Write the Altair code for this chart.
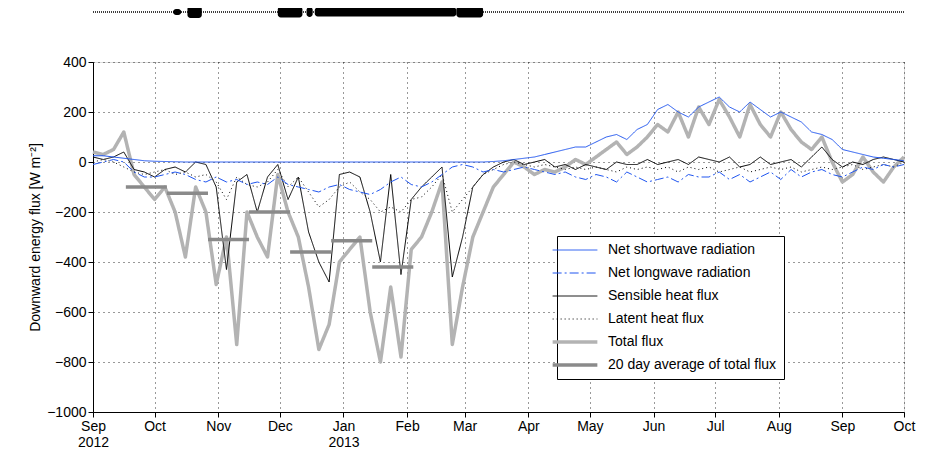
import altair as alt
import pandas as pd

# 5-day samples from 2012-09-01
START = "2012-09-01"
N = 80
shortwave = [25, 25, 20, 15, 10, 5, 3, 2, 1, 0] + [0] * 29 + [
    2, 5, 10, 15, 20, 30, 40, 50, 60, 60, 80, 100, 110, 90, 130, 150, 210, 230, 200, 180,
    220, 240, 260, 220, 200, 240, 210, 180, 200, 180, 160, 120, 110, 90, 50, 40, 30, 20, 15, 10, 5]
longwave = [-10, 0, 10, 0, -40, -60, -60, -50, -40, -50, -70, -80, -60, -80, -70, -90, -80, -90, -60, -90,
            -100, -110, -120, -100, -90, -110, -120, -130, -110, -80, -60, -90, -100, -80, -50, -20, -10, -20, -40, -30,
            -40, -30, -20, -30, -40, -50, -40, -60, -70, -50, -60, -80, -40, -60, -80, -70, -60, -80, -50, -60,
            -60, -40, -70, -50, -80, -60, -40, -70, -30, -60, -40, -30, -50, -60, -40, -20, -30, -10, -20, -10]
sensible = [20, 10, 20, 40, -30, -40, -60, -30, -20, -40, 0, -10, -100, -430, -80, -50, -200, -60, -10, -150,
            -60, -280, -400, -480, -50, -40, -60, -200, -400, -50, -450, -150, -100, -60, -20, -460, -300, -100, -50, -20,
            0, 10, -10, 0, 10, -20, -10, -30, -10, -20, -30, 0, -10, -10, 10, -10, 0, 10, -10, 20,
            10, 0, 20, -20, -10, 20, -10, 0, 10, -20, 20, 60, 10, -20, 0, -10, 10, 20, 10, 0]
latent = [0, 10, 0, -20, -40, -50, -40, -30, -50, -40, -60, -50, -80, -150, -60, -90, -100, -80, -30, -100,
          -60, -120, -180, -150, -100, -80, -120, -150, -200, -180, -200, -150, -140, -100, -50, -200, -150, -100, -50, -30,
          -10, 0, -10, -20, -10, -20, -30, -20, -30, -20, -30, -40, -20, -30, -20, -30, -20, -40, -20, -30,
          -20, -40, -30, -20, -40, -30, -20, -30, -20, -40, -30, -20, -30, -20, -10, -30, -20, -10, -20, 0]
total = [40, 30, 50, 120, -50, -100, -150, -100, -200, -380, -100, -200, -490, -300, -730, -200, -300, -380, -50, -200,
         -300, -500, -750, -650, -400, -350, -300, -600, -800, -500, -780, -350, -300, -200, -80, -730, -500, -300, -200, -100,
         -50, 0, -20, -50, -30, -40, -20, 10, -10, 20, 50, 80, 30, 60, 100, 150, 120, 200, 100, 220,
         150, 250, 180, 100, 230, 150, 100, 200, 130, 80, 50, 100, 0, -80, -50, 20, -40, -80, -20, 20]

avg_start = ["2012-09-17", "2012-10-07", "2012-10-27", "2012-11-16", "2012-12-06", "2012-12-26", "2013-01-15"]
avg_value = [-100, -125, -310, -200, -360, -315, -420]

# top availability strip: start day, end day, half thickness
strip_start = [39, 46, 90, 104, 108, 177]
strip_end = [43, 53, 102, 107, 177, 190]
strip_half = [12, 24, 22, 20, 18, 22]

NAMES = ["Net shortwave radiation", "Net longwave radiation", "Sensible heat flux",
         "Latent heat flux", "Total flux", "20 day average of total flux"]
COLORS = ["#1f55f0", "#1f55f0", "#000000", "#000000", "#b3b3b3", "#8a8a8a"]
DASHES = [[1, 0], [9, 3, 2, 3], [1, 0], [1, 3], [1, 0], [1, 0]]
WIDTHS = [1, 1, 1, 1, 3.5, 3.5]

dates = pd.date_range(START, periods=N, freq="5D")
series = {NAMES[0]: shortwave, NAMES[1]: longwave, NAMES[2]: sensible, NAMES[3]: latent, NAMES[4]: total}

rows = []
for name, vals in series.items():
    for d, v in zip(dates, vals):
        rows.append({"series": name, "date": d, "value": v, "seg": 0})
for i, (s, v) in enumerate(zip(avg_start, avg_value)):
    s = pd.Timestamp(s)
    rows.append({"series": NAMES[5], "date": s, "value": v, "seg": i})
    rows.append({"series": NAMES[5], "date": s + pd.Timedelta(days=20), "value": v, "seg": i})
df = pd.DataFrame(rows)

base0 = pd.Timestamp(START)
strip = pd.DataFrame({
    "start": [base0 + pd.Timedelta(days=d) for d in strip_start],
    "end": [base0 + pd.Timedelta(days=d) for d in strip_end],
    "lo": [600 - h for h in strip_half],
    "hi": [600 + h for h in strip_half],
})
line_df = pd.DataFrame({"start": [base0], "end": [pd.Timestamp("2013-10-01")], "v": [600]})

FONT = "Liberation Sans"
xscale = alt.Scale(domain=[pd.Timestamp("2012-09-01").isoformat(), pd.Timestamp("2013-10-01").isoformat()])
yscale = alt.Scale(domain=[-1000, 400])
x_axis = alt.Axis(
    title=None, format="%b", tickCount={"interval": "month", "step": 1}, grid=True, gridDash=[1, 4],
    gridColor="#000", gridOpacity=0.8, labelFontSize=14, labelColor="#000", domainColor="#000", tickColor="#000",
    labelExpr="(month(datum.value)==0 || (month(datum.value)==8 && year(datum.value)==2012)) ? "
              "[timeFormat(datum.value,'%b'), timeFormat(datum.value,'%Y')] : timeFormat(datum.value,'%b')",
    labelAlign="center",
)
y_axis = alt.Axis(
    title="Downward energy flux [W m⁻²]", values=list(range(-1000, 401, 200)), format="d", grid=True,
    gridDash=[1, 4], gridColor="#000", gridOpacity=0.8, labelFontSize=14, titleFontSize=14,
    titleFontWeight="normal", labelColor="#000", titleColor="#000", domainColor="#000", tickColor="#000",
)

thick = " || ".join(f"datum.value == '{n}'" for n, w in zip(NAMES, WIDTHS) if w > 1)
legend = alt.Legend(
    orient="none", legendX=464, legendY=174, title=None, symbolType="stroke", symbolSize=2000,
    labelFontSize=14, labelFont=FONT, labelColor="#000", fillColor="white", strokeColor="#000",
    padding=7, rowPadding=9, labelLimit=400, labelOffset=26, symbolOffset=4,
    symbolStrokeWidth={"expr": f"({thick}) ? 3.5 : 1"},
)
enc = dict(
    x=alt.X("date:T", scale=xscale, axis=x_axis),
    y=alt.Y("value:Q", scale=yscale, axis=y_axis),
    color=alt.Color("series:N", sort=NAMES, scale=alt.Scale(domain=NAMES, range=COLORS), legend=legend),
    strokeDash=alt.StrokeDash("series:N", sort=NAMES, scale=alt.Scale(domain=NAMES, range=DASHES), legend=legend),
    detail="seg:N",
)

order = [NAMES[4], NAMES[2], NAMES[3], NAMES[1], NAMES[0], NAMES[5]]
layers = [
    alt.Chart(df[df.series == n]).mark_line(strokeJoin="round", strokeWidth=WIDTHS[NAMES.index(n)]).encode(**enc)
    for n in order
]
strip_line = alt.Chart(line_df).mark_rule(color="#000", strokeDash=[1, 1], strokeWidth=1.5).encode(
    x=alt.X("start:T", scale=xscale), x2="end:T", y=alt.Y("v:Q", scale=yscale))
strip_rect = alt.Chart(strip).mark_rect(color="#000", cornerRadius=3).encode(
    x=alt.X("start:T", scale=xscale), x2="end:T", y=alt.Y("lo:Q", scale=yscale), y2="hi:Q")

chart = alt.layer(*layers, strip_line, strip_rect).properties(
    width=811, height=350, padding={"left": 85, "top": 54, "right": 15, "bottom": 36},
    autosize=alt.AutoSizeParams(type="none"),
).configure_view(stroke="#000", strokeWidth=1).configure(font=FONT, background="white")

chart.save("out.html", embed_options={"renderer": "svg", "actions": False})
